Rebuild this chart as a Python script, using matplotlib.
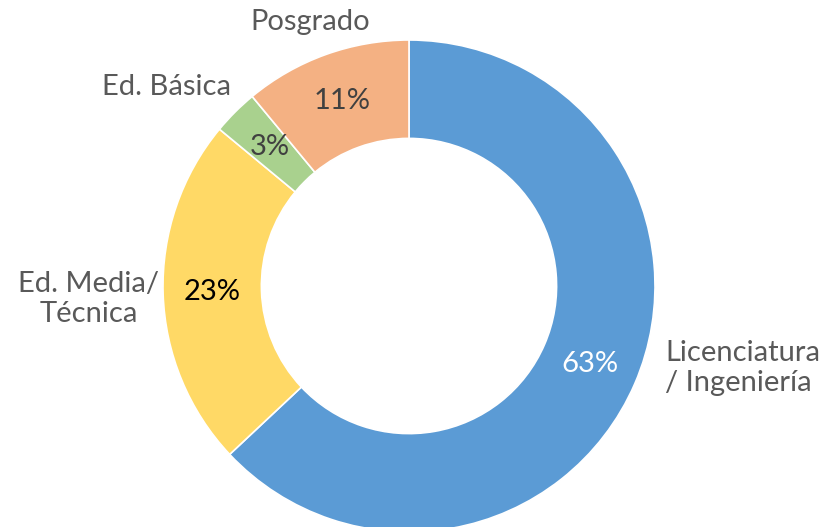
import numpy as np
import matplotlib.pyplot as plt

# Data
categories = ["Licenciatura\n/ Ingeniería", "Ed. Media/\nTécnica", "Ed. Básica", "Posgrado"]
shares = [63, 23, 3, 11]
pct_labels = ["63%", "23%", "3%", "11%"]

colors = ["#5B9BD5", "#FFD966", "#A9D18E", "#F4B183"]
pct_colors = ["white", "black", "#404040", "#404040"]

# label placement (pixel coords of the figure, top-left origin), alignment, line alignment
label_pos = [(665, 368, "left", "left"), (159, 299, "right", "center"),
             (231, 87, "right", "center"), (310, 22, "center", "center")]

W, H = 825, 527
fig = plt.figure(figsize=(W / 100, H / 100), dpi=100)
ax = fig.add_axes([0, 0, 1, 1])

cx, cy, r = 409, H - 286, 246

wedges, texts = ax.pie(
    shares,
    colors=colors,
    startangle=90,
    counterclock=False,
    center=(cx, cy),
    radius=r,
    wedgeprops=dict(width=r * 0.4, edgecolor="white", linewidth=1.2),
    frame=True,
)
ax.set_xlim(0, W)
ax.set_ylim(0, H)
ax.set_aspect("equal")
ax.axis("off")

# percentage labels inside the ring
for w, txt, col in zip(wedges, pct_labels, pct_colors):
    ang = np.deg2rad((w.theta1 + w.theta2) / 2)
    ax.text(cx + 0.8 * r * np.cos(ang), cy + 0.8 * r * np.sin(ang), txt,
            ha="center", va="center", fontsize=21, color=col, family="Lato")

# category labels outside
for name, (x, y, ha, ma) in zip(categories, label_pos):
    ax.text(x, H - y, name, ha=ha, va="center", multialignment=ma,
            fontsize=21, color="#595959", family="Lato", linespacing=1.2)

fig.savefig("out.png", dpi=100)
